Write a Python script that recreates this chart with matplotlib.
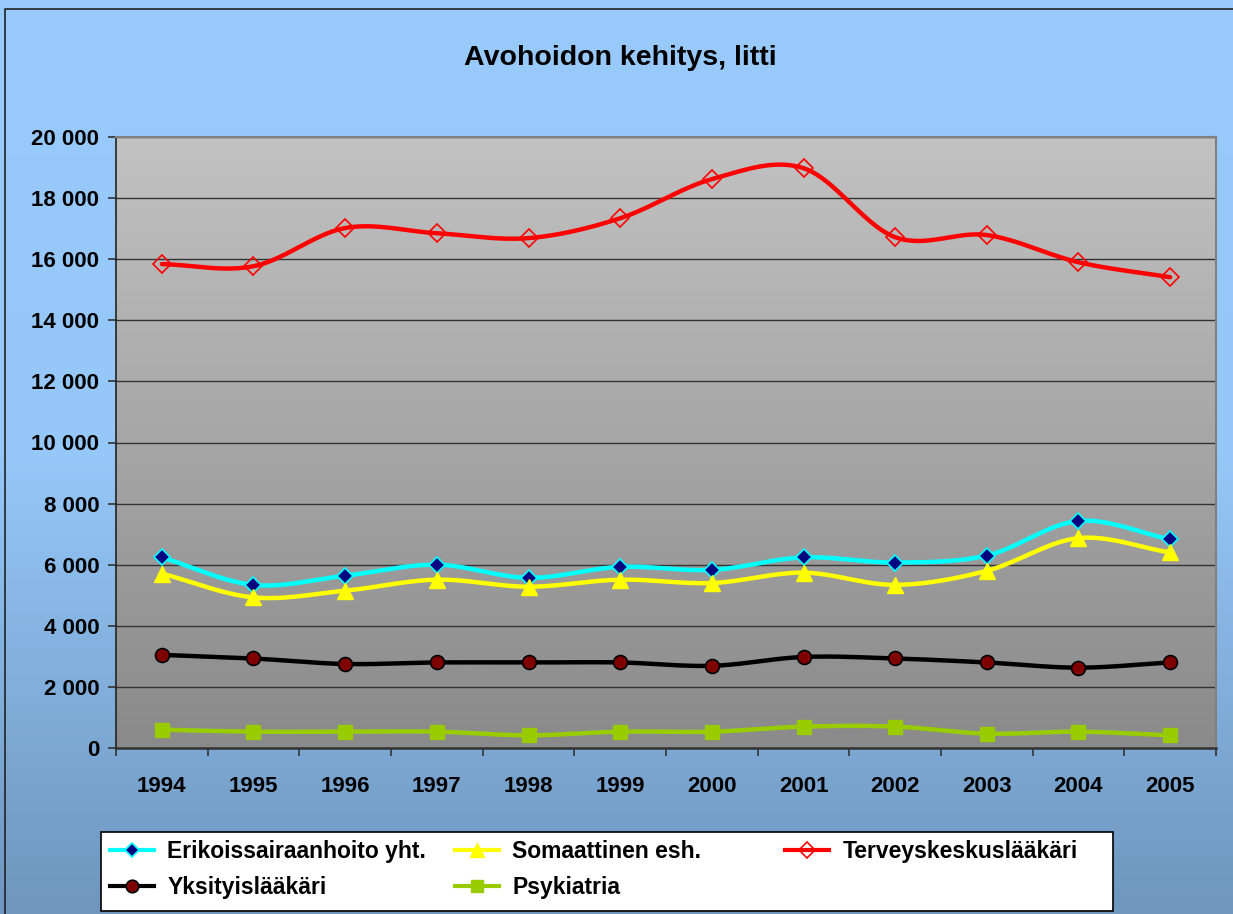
#!/usr/bin/env python3
# Avohoidon kehitys, litti - line chart recreation

import numpy as np
import matplotlib
matplotlib.use("Agg")
import matplotlib.pyplot as plt
from matplotlib.colors import LinearSegmentedColormap
from matplotlib.patches import Rectangle
from matplotlib.ticker import FuncFormatter

years = ["1994", "1995", "1996", "1997", "1998", "1999",
         "2000", "2001", "2002", "2003", "2004", "2005"]

erikoissairaanhoito = [6240, 5340, 5640, 6000, 5570, 5930, 5830, 6240, 6070, 6300, 7430, 6830]
somaattinen = [5710, 4930, 5150, 5510, 5280, 5510, 5400, 5740, 5340, 5800, 6870, 6400]
terveyskeskus = [15840, 15770, 17020, 16850, 16690, 17340, 18620, 18980, 16720, 16790, 15900, 15410]
yksityis = [3050, 2930, 2750, 2800, 2800, 2800, 2690, 2980, 2930, 2800, 2630, 2800]
psykiatria = [600, 535, 535, 535, 415, 535, 535, 700, 700, 470, 535, 415]

plt.rcParams['font.family'] = ['Liberation Sans', 'DejaVu Sans']
plt.rcParams['font.weight'] = 'bold'


def smooth(x, y, n=20):
    # Catmull-Rom style curve, like Excel's smoothed line
    x = np.asarray(x, float)
    y = np.asarray(y, float)
    px = np.concatenate([[2 * x[0] - x[1]], x, [2 * x[-1] - x[-2]]])
    py = np.concatenate([[2 * y[0] - y[1]], y, [2 * y[-1] - y[-2]]])
    xs, ys = [], []
    t = np.linspace(0, 1, n, endpoint=False)
    for i in range(1, len(px) - 2):
        for p, out in ((px, xs), (py, ys)):
            p0, p1, p2, p3 = p[i - 1], p[i], p[i + 1], p[i + 2]
            c1 = p1 + (p2 - p0) / 6.0
            c2 = p2 - (p3 - p1) / 6.0
            b = ((1 - t) ** 3 * p1 + 3 * (1 - t) ** 2 * t * c1
                 + 3 * (1 - t) * t ** 2 * c2 + t ** 3 * p2)
            out.extend(b)
    xs.append(x[-1])
    ys.append(y[-1])
    return np.array(xs), np.array(ys)


W, H = 1233, 914
fig = plt.figure(figsize=(W / 100, H / 100), dpi=100)

# figure background gradient
bg = fig.add_axes([0, 0, 1, 1], zorder=-10)
bg_cmap = LinearSegmentedColormap.from_list("bg", ["#98cafb", "#95c7f8", "#6e96be"])
bg.imshow(np.linspace(0, 1, 256).reshape(-1, 1), aspect='auto', cmap=bg_cmap,
          extent=[0, 1, 0, 1], origin='upper')
bg.set_xlim(0, 1)
bg.set_ylim(0, 1)
bg.axis('off')
bg.plot([5 / W, 5 / W, 1], [0, 1 - 9 / H, 1 - 9 / H], color='#222222', lw=1.2)

left, right, top, bottom = 116, 1216, 137, 748
ax = fig.add_axes([left / W, 1 - bottom / H, (right - left) / W, (bottom - top) / H])
ax.set_facecolor('none')
pa_cmap = LinearSegmentedColormap.from_list("pa", ["#c2c2c2", "#8a8a8a"])
ax.imshow(np.linspace(0, 1, 256).reshape(-1, 1), aspect='auto', cmap=pa_cmap,
          extent=[0, 1, 0, 1], origin='upper', transform=ax.transAxes, zorder=0)

x = np.arange(len(years))
ax.set_xlim(-0.5, len(years) - 0.5)
ax.set_ylim(0, 20000)

series = [
    ("Erikoissairaanhoito yht.", erikoissairaanhoito, dict(color='#00ffff', marker='D', mfc='#000080', mec='#00ffff', ms=8, mew=1.2)),
    ("Somaattinen esh.", somaattinen, dict(color='#ffff00', marker='^', mfc='#ffff00', mec='#ffff00', ms=11, mew=1)),
    ("Terveyskeskuslääkäri", terveyskeskus, dict(color='#ff0000', marker='D', mfc='none', mec='#ff0000', ms=9, mew=1.2)),
    ("Yksityislääkäri", yksityis, dict(color='#000000', marker='o', mfc='#800000', mec='#000000', ms=10, mew=1.2)),
    ("Psykiatria", psykiatria, dict(color='#99cc00', marker='s', mfc='#99cc00', mec='#99cc00', ms=10, mew=1)),
]

handles = {}
for name, vals, st in series:
    sx, sy = smooth(x, vals)
    ax.plot(sx, sy, color=st['color'], lw=3.2, zorder=3, solid_capstyle='round')
    ax.plot(x, vals, linestyle='none', marker=st['marker'], mfc=st['mfc'],
            mec=st['mec'], ms=st['ms'], mew=st['mew'], zorder=4)
    handles[name] = plt.Line2D([], [], color=st['color'], lw=3, marker=st['marker'],
                               mfc=st['mfc'], mec=st['mec'], ms=st['ms'] * 0.9, mew=st['mew'])

# grid lines
for v in range(2000, 20001, 2000):
    ax.axhline(v, color='#333333', lw=1.0, zorder=2)

ax.set_yticks(range(0, 20001, 2000))
ax.yaxis.set_major_formatter(FuncFormatter(lambda v, p: f"{int(v):,}".replace(",", " ")))
ax.set_xticks(x)
ax.set_xticklabels(years)
ax.set_xticks(np.arange(-0.5, len(years)), minor=True)
ax.tick_params(axis='x', which='major', length=0, pad=20, labelsize=16)
ax.tick_params(axis='x', which='minor', length=6, direction='out', width=1.2, color='#333333')
ax.tick_params(axis='y', length=6, direction='out', width=1.2, color='#333333', labelsize=16, pad=6)

for s in ['top', 'right']:
    ax.spines[s].set_color('#808080')
    ax.spines[s].set_linewidth(1.5)
ax.spines['left'].set_color('#222222')
ax.spines['bottom'].set_color('#333333')
ax.spines['left'].set_linewidth(1.2)
ax.spines['bottom'].set_linewidth(1.8)

fig.text(620 / W, 1 - 58 / H, "Avohoidon kehitys, litti", ha='center', va='center',
         fontsize=20.5, fontweight='bold')

# legend: white box with three columns
fig.patches.append(Rectangle((101 / W, 1 - 911 / H), (1113 - 101) / W, (911 - 832) / H,
                             transform=fig.transFigure, facecolor='white',
                             edgecolor='black', lw=1.2, zorder=5))
columns = [(110, ["Erikoissairaanhoito yht.", "Yksityislääkäri"]),
           (455, ["Somaattinen esh.", "Psykiatria"]),
           (785, ["Terveyskeskuslääkäri"])]
for xpos, names in columns:
    leg = fig.legend([handles[n] for n in names], names, loc='upper left',
                     bbox_to_anchor=(xpos / W, 1 - 840 / H), fontsize=16.5,
                     frameon=False, handlelength=1.9, handletextpad=0.6,
                     borderpad=0, labelspacing=0.55, borderaxespad=0)
    leg.set_zorder(6)

fig.savefig("out.png", dpi=100)
